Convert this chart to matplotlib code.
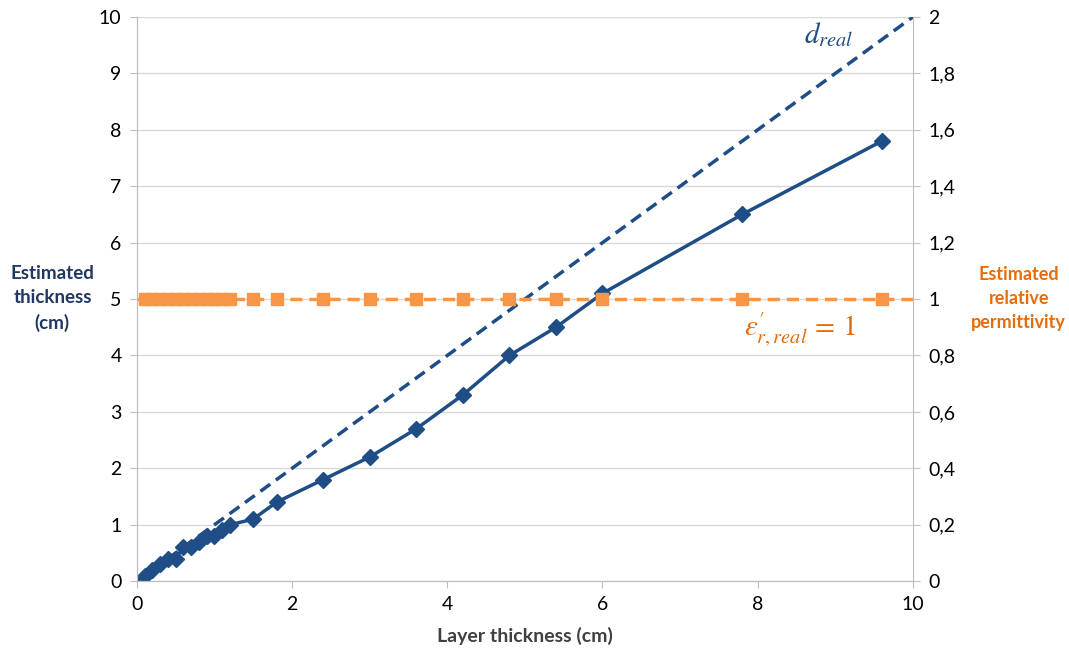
import matplotlib.pyplot as plt

# layer thickness (cm) and estimated thickness (cm)
layer = [0.1, 0.2, 0.3, 0.4, 0.5, 0.6, 0.7, 0.8, 0.9, 1.0, 1.1, 1.2,
         1.5, 1.8, 2.4, 3.0, 3.6, 4.2, 4.8, 5.4, 6.0, 7.8, 9.6]
est_thick = [0.1, 0.2, 0.3, 0.4, 0.4, 0.6, 0.6, 0.7, 0.8, 0.8, 0.9, 1.0,
             1.1, 1.4, 1.8, 2.2, 2.7, 3.3, 4.0, 4.5, 5.1, 6.5, 7.8]
est_perm = [1.0] * len(layer)
real_line = [0, 10]

blue = '#1F4E86'
orange = '#F79646'
plt.rcParams['font.family'] = ['Lato', 'DejaVu Sans']
plt.rcParams['mathtext.fontset'] = 'stix'

fig = plt.figure(figsize=(10.69, 6.53), dpi=100)
ax = fig.add_axes([0.128, 0.110, 0.726, 0.864])
ax2 = ax.twinx()

ax.plot(real_line, real_line, '--', color=blue, lw=2.5, dashes=(3.5, 2))
ax.plot(layer, est_thick, '-', color=blue, lw=2.5, marker='D', ms=8)
ax2.plot(real_line, [1, 1], '--', color=orange, lw=2.5, dashes=(3.5, 2))
ax2.plot(layer, est_perm, 's', color=orange, ms=9)

ax.set_xlim(0, 10)
ax.set_ylim(0, 10)
ax2.set_ylim(0, 2)
ax.set_xticks(range(0, 11, 2))
ax.set_yticks(range(0, 11))
ticks2 = [i * 0.2 for i in range(11)]
ax2.set_yticks(ticks2)
ax2.set_yticklabels([('%g' % t).replace('.', ',') for t in ticks2])

ax.grid(axis='y', color='#D9D9D9', lw=1)
ax.set_axisbelow(True)
for a in (ax, ax2):
    for s in a.spines.values():
        s.set_color('#BFBFBF')
    a.spines['top'].set_visible(False)
    a.tick_params(colors='#BFBFBF', labelcolor='black', labelsize=14, length=5, pad=6)
ax.spines['right'].set_visible(False)

ax.set_xlabel('Layer thickness (cm)', fontsize=14, fontweight='bold', color='#404040',
              labelpad=10)
fig.text(0.049, 0.543, 'Estimated\nthickness\n(cm)', ha='center', va='center',
         fontsize=13.5, fontweight='bold', color='#1F3864', linespacing=1.5)
fig.text(0.953, 0.543, 'Estimated\nrelative\npermittivity', ha='center', va='center',
         fontsize=13, fontweight='bold', color='#E46C0A', linespacing=1.5)

ax.text(8.92, 9.68, r'$d_{real}$', fontsize=21, color=blue, ha='center', va='center')
ax.text(8.54, 4.45, r"$\varepsilon_{r,real}^{\prime}\,=\,1$", fontsize=21, color='#E46C0A',
        ha='center', va='center')

fig.savefig('out.png', dpi=100)
